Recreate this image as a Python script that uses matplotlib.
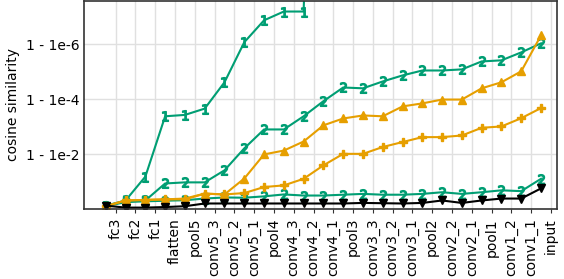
import numpy as np
import matplotlib.pyplot as plt

layers = ["fc3", "fc2", "fc1", "flatten", "pool5", "conv5_3", "conv5_2", "conv5_1",
          "pool4", "conv4_3", "conv4_2", "conv4_1", "pool3", "conv3_3", "conv3_2",
          "conv3_1", "pool2", "conv2_2", "conv2_1", "pool1", "conv1_2", "conv1_1", "input"]

# values are -log10(1 - cosine similarity)
green_1 = [0.12, 0.31, 1.18, 3.38, 3.43, 3.66, 4.62, 6.08, 6.88, 7.20, 7.20, 30.0,
           np.nan, np.nan, np.nan, np.nan, np.nan, np.nan, np.nan, np.nan, np.nan, np.nan, np.nan]
green_2 = [0.12, 0.28, 0.31, 0.93, 0.97, 0.97, 1.41, 2.21, 2.90, 2.90, 3.38, 3.93,
           4.43, 4.40, 4.65, 4.87, 5.05, 5.05, 5.09, 5.38, 5.42, 5.71, 6.04]
green_3 = [0.10, 0.25, 0.28, 0.30, 0.32, 0.38, 0.42, 0.41, 0.46, 0.53, 0.49, 0.49,
           0.52, 0.55, 0.52, 0.52, 0.55, 0.61, 0.55, 0.61, 0.68, 0.65, 1.10]
orange_tri = [0.10, 0.31, 0.33, 0.35, 0.35, 0.56, 0.53, 1.11, 1.99, 2.13, 2.46, 3.05,
              3.30, 3.41, 3.38, 3.74, 3.85, 3.99, 3.99, 4.40, 4.62, 5.02, 6.33]
orange_plus = [0.10, 0.31, 0.33, 0.35, 0.38, 0.56, 0.53, 0.58, 0.80, 0.86, 1.10, 1.59,
               2.01, 2.01, 2.26, 2.44, 2.62, 2.62, 2.68, 2.96, 3.01, 3.31, 3.68]
black = [0.12, 0.05, 0.05, 0.07, 0.10, 0.20, 0.20, 0.20, 0.20, 0.20, 0.20, 0.20,
         0.20, 0.22, 0.21, 0.20, 0.22, 0.31, 0.22, 0.31, 0.38, 0.38, 0.75]

green = "#009E73"
orange = "#E69F00"

fig = plt.figure(figsize=(5.64, 2.79), dpi=100)
ax = fig.add_axes([0.149, 0.251, 0.839, 0.747])

x = np.arange(len(layers)) - 0.5

ax.plot(x, green_1, color=green, lw=1.5, marker="$1$", ms=7)
ax.plot(x, green_2, color=green, lw=1.5, marker="$2$", ms=7)
ax.plot(x, green_3, color=green, lw=1.5, marker="$2$", ms=7)
ax.plot(x, orange_plus, color=orange, lw=1.5, marker="P", ms=6)
ax.plot(x, orange_tri, color=orange, lw=1.5, marker="^", ms=6)
ax.plot(x, black, color="black", lw=1.5, marker="v", ms=6)

ax.set_xticks(np.arange(len(layers)))
ax.set_xticklabels(layers, rotation=90, fontsize=10)
ax.set_yticks([2, 4, 6])
ax.set_yticklabels(["1 - 1e-2", "1 - 1e-4", "1 - 1e-6"], fontsize=10)
ax.set_ylabel("cosine similarity", fontsize=10)
ax.set_xlim(-1.6, 22.32)
ax.set_ylim(0, 7.6)

ax.grid(True, color="#e0e0e0", lw=1)
ax.set_axisbelow(True)
ax.tick_params(axis="y", length=0)
ax.tick_params(axis="x", length=3, color="#333333")
for s in ax.spines.values():
    s.set_color("#333333")
    s.set_linewidth(1.2)

fig.savefig("out.png", dpi=100)
